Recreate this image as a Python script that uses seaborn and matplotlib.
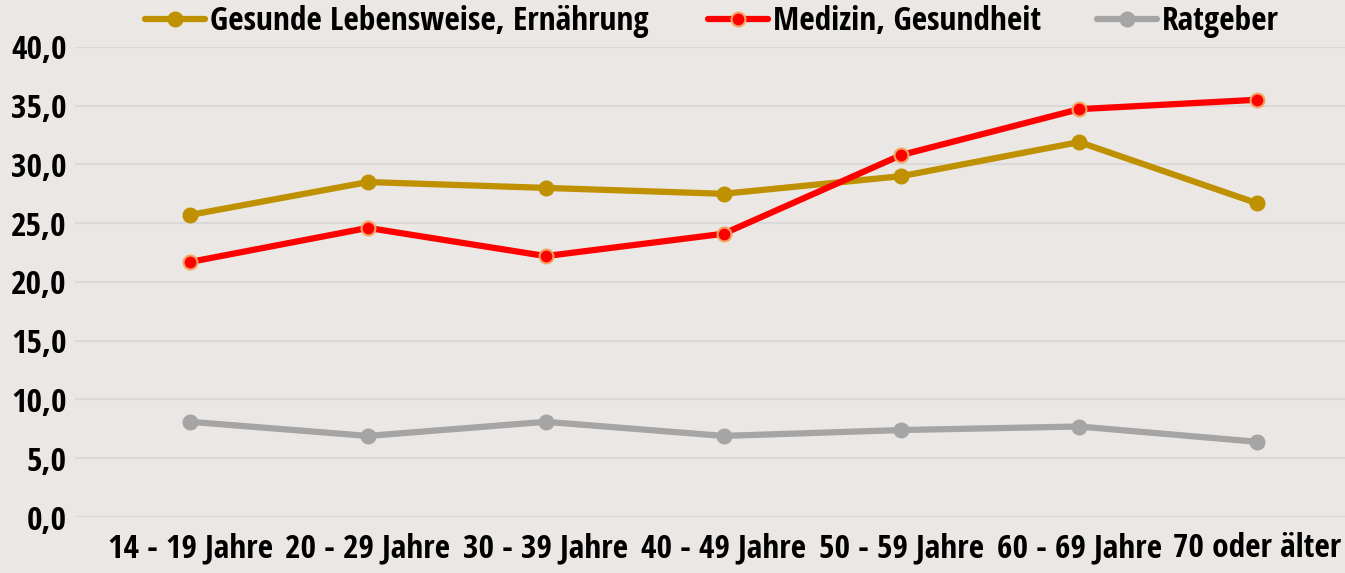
import numpy as np
import pandas as pd
import seaborn as sns
import matplotlib.pyplot as plt
from matplotlib import font_manager

# Daten
altersgruppen = ['14 - 19 Jahre', '20 - 29 Jahre', '30 - 39 Jahre', '40 - 49 Jahre',
                 '50 - 59 Jahre', '60 - 69 Jahre', '70 oder älter']
gesunde_lebensweise = [25.7, 28.5, 28.0, 27.5, 29.0, 31.9, 26.7]
medizin_gesundheit = [21.7, 24.6, 22.2, 24.1, 30.8, 34.7, 35.5]
ratgeber = [8.1, 6.9, 8.1, 6.9, 7.4, 7.7, 6.4]

serien = ['Gesunde Lebensweise, Ernährung', 'Medizin, Gesundheit', 'Ratgeber']
farben = ['#BF9000', '#FF0000', '#A5A5A5']

df = pd.DataFrame({
    'Alter': altersgruppen * 3,
    'x': list(range(len(altersgruppen))) * 3,
    'Wert': gesunde_lebensweise + medizin_gesundheit + ratgeber,
    'Serie': [s for s in serien for _ in altersgruppen],
})

sns.set_theme(style='white')

# schmale Schrift suchen, sonst Lato
vorhanden = {f.name for f in font_manager.fontManager.ttflist}
schrift = 'Lato'
for kandidat in ['Liberation Sans Narrow', 'DejaVu Sans Condensed', 'Open Sans Condensed']:
    if kandidat in vorhanden:
        schrift = kandidat
        break
plt.rcParams['font.family'] = [schrift, 'DejaVu Sans']
plt.rcParams['text.color'] = 'black'

hintergrund = '#EBE7E4'
fig = plt.figure(figsize=(13.45, 5.73), dpi=100, facecolor=hintergrund)
ax = fig.add_axes([0.0558, 0.0977, 0.9442, 0.8205])
ax.set_facecolor(hintergrund)

for serie, farbe in zip(serien, farben):
    teil = df[df['Serie'] == serie]
    kante = '#F4A460' if serie == 'Medizin, Gesundheit' else farbe
    sns.lineplot(data=teil, x='x', y='Wert', ax=ax, color=farbe, linewidth=4.5,
                 marker='o', markersize=10, markerfacecolor=farbe,
                 markeredgecolor=kante, markeredgewidth=1.5, label=serie)

ax.set_xlim(-0.647, 6.495)
ax.set_ylim(0, 40)
ax.set_yticks(np.arange(0, 41, 5))
ax.set_yticklabels([f'{v:.1f}'.replace('.', ',') for v in np.arange(0, 41, 5)])
ax.set_xticks(range(len(altersgruppen)))
ax.set_xticklabels(altersgruppen)
ax.tick_params(axis='both', labelsize=24, length=0, colors='black')
ax.tick_params(axis='x', pad=11)
ax.tick_params(axis='y', pad=6)
for lbl in ax.get_xticklabels() + ax.get_yticklabels():
    lbl.set_fontweight('bold')
ax.set_xlabel('')
ax.set_ylabel('')
ax.grid(axis='y', color='#D9D9D9', linewidth=1.5)
ax.set_axisbelow(True)
for sp in ax.spines.values():
    sp.set_visible(False)

# Legende: jeder Eintrag an seiner Stelle oben
ax.get_legend().remove()
handles, labels = ax.get_legend_handles_labels()
legende_x = [145, 708, 1097]
for h, l, lx in zip(handles, labels, legende_x):
    fig.legend([h], [l], loc='center left', bbox_to_anchor=(lx / 1345, 1 - 22 / 573),
               frameon=False, prop={'size': 24, 'weight': 'bold'},
               handlelength=1.8, handletextpad=0.15, borderaxespad=0, borderpad=0)

fig.savefig('out.png', dpi=100, facecolor=hintergrund)
